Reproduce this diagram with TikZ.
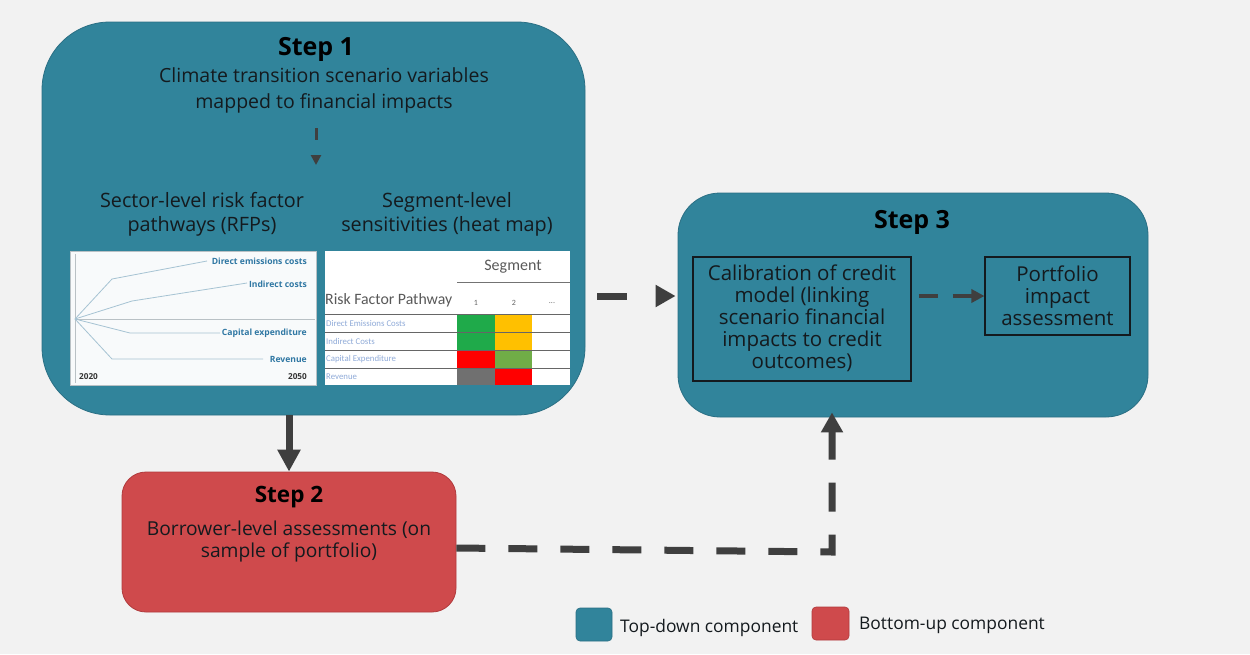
\documentclass[tikz,border=0pt]{standalone}
\usepackage{fontspec}
\setmainfont{Open Sans}
\newfontfamily\condfont{Carlito}
\usetikzlibrary{arrows.meta,calc}

\definecolor{pagebg}{HTML}{F2F2F2}
\definecolor{topdown}{HTML}{31849B}
\definecolor{topdownedge}{HTML}{2A6F84}
\definecolor{bottomup}{HTML}{CF4A4C}
\definecolor{bottomupedge}{HTML}{B03A3C}
\definecolor{arrowgray}{HTML}{3F3F3F}
\definecolor{inktext}{HTML}{141A1E}
\definecolor{rfpline}{HTML}{A6C3D3}
\definecolor{rfplabel}{HTML}{2F77A3}
\definecolor{axisgray}{HTML}{B9C1C5}
\definecolor{rowlabel}{HTML}{8FAAD8}
\definecolor{hmgreen}{HTML}{1FAA4A}
\definecolor{hmyellow}{HTML}{FFC000}
\definecolor{hmred}{HTML}{FF0000}
\definecolor{hmolive}{HTML}{70AD47}
\definecolor{hmgray}{HTML}{707070}

\tikzset{
  stepbox/.style={fill=topdown, draw=topdownedge, line width=0.8pt},
  redbox/.style={fill=bottomup, draw=bottomupedge, line width=0.8pt},
  steptitle/.style={font=\fontsize{25}{28}\bfseries\selectfont, text=black, inner sep=0pt},
  bodytext/.style={font=\fontsize{19.5}{26}\selectfont, text=inktext, align=center, inner sep=0pt},
  framebox/.style={draw=inktext, line width=1.1pt, inner sep=0pt},
  bigarrow/.style={draw=arrowgray, line width=7pt, -{Triangle[length=22pt,width=22pt]}},
  bigdash/.style={draw=arrowgray, line width=7pt, -{Triangle[length=20pt,width=21pt]}},
  smalldash/.style={draw=arrowgray, line width=4pt, dash pattern=on 19pt off 15pt, -{Triangle[length=13pt,width=13pt]}},
  tinydash/.style={draw=arrowgray, line width=3pt, dash pattern=on 12pt off 15pt, -{Triangle[length=10pt,width=10pt]}},
  rfp/.style={draw=rfpline, line width=0.8pt},
  rfptext/.style={font=\fontsize{8.6}{10}\bfseries\selectfont, text=rfplabel, inner sep=0pt},
  yeartext/.style={font=\fontsize{8.2}{10}\bfseries\selectfont, text=black!80, inner sep=0pt},
  rowtext/.style={font=\condfont\fontsize{8.8}{10}\selectfont, text=rowlabel, inner sep=0pt, anchor=west},
  legendtext/.style={font=\fontsize{17.4}{20}\selectfont, text=inktext, inner sep=0pt, anchor=west},
}

\begin{document}
\begin{tikzpicture}[x=1pt,y=-1pt]
\useasboundingbox (0,0) rectangle (1250,654);
\fill[pagebg] (0,0) rectangle (1250,654);

% ---------- Step 1 ----------
\node[stepbox, minimum width=543pt, minimum height=393pt, rounded corners=68pt] (step1) at (313.5,218.5) {};
\node[steptitle] (t1) at (316,49) {Step 1};
\node[bodytext] (sub1) at (324,90) {Climate transition scenario variables\\mapped to financial impacts};
\coordinate (d1a) at (316,128);
\coordinate (d1b) at (316,165);
\draw[tinydash] (d1a) -- (d1b);
\node[bodytext, font=\fontsize{19.8}{24}\selectfont] (h1) at (202,214) {Sector-level risk factor\\pathways (RFPs)};
\node[bodytext, font=\fontsize{19.8}{24}\selectfont] (h2) at (447,214) {Segment-level\\sensitivities (heat map)};

% risk factor pathway chart
\node[fill=white!92!rfpline, draw=axisgray, line width=0.5pt, minimum width=246pt, minimum height=134pt, inner sep=0pt] (chart) at (193,318) {};
\draw[axisgray, line width=0.8pt] (75,254) -- (75,383);
\draw[axisgray, line width=0.8pt] (75,319) -- (315,319);
\coordinate (o) at (75,319);
\draw[rfp] (o) -- (112,279) -- (207,261);
\draw[rfp] (o) -- (132,301) -- (247,283);
\draw[rfp] (o) -- (130,333) -- (220,333);
\draw[rfp] (o) -- (112,359) -- (263,359);
\node[rfptext, anchor=east] (l1) at (307,261) {Direct emissions costs};
\node[rfptext, anchor=east] (l2) at (307,284) {Indirect costs};
\node[rfptext, anchor=east] (l3) at (307,333) {Capital expenditure};
\node[rfptext, anchor=east] (l4) at (307,359) {Revenue};
\node[yeartext, anchor=west] (y1) at (79,377) {2020};
\node[yeartext, anchor=east] (y2) at (307,377) {2050};

% heat map table
\node[fill=white, minimum width=245pt, minimum height=134pt, inner sep=0pt] (heat) at (447.5,318) {};
\node[font=\condfont\fontsize{16}{20}\selectfont, text=black!65, inner sep=0pt] (seg) at (513,267) {Segment};
\draw[black!55, line width=0.8pt] (457,282) -- (570,282);
\node[font=\condfont\fontsize{15.8}{20}\selectfont, text=black!65, inner sep=0pt, anchor=west] (rfpp) at (325,300) {Risk Factor Pathway};
\node[font=\condfont\fontsize{8}{9}\selectfont, text=black!60, inner sep=0pt] (c1) at (476,303) {1};
\node[font=\condfont\fontsize{8}{9}\selectfont, text=black!60, inner sep=0pt] (c2) at (514,303) {2};
\node[font=\condfont\fontsize{8}{9}\selectfont, text=black!60, inner sep=0pt] (c3) at (552,303) {...};
\fill[hmgreen]  (457,314) rectangle (495,332);
\fill[hmyellow] (495,314) rectangle (532,332);
\fill[hmgreen]  (457,332) rectangle (495,350);
\fill[hmyellow] (495,332) rectangle (532,350);
\fill[hmred]    (457,350) rectangle (495,368);
\fill[hmolive]  (495,350) rectangle (532,368);
\fill[hmgray]   (457,368) rectangle (495,385);
\fill[hmred]    (495,368) rectangle (532,385);
\foreach \yy in {314,332,350,368}
  \draw[black!60, line width=0.7pt] (325,\yy) -- (570,\yy);
\node[rowtext] (r1) at (326,323) {Direct Emissions Costs};
\node[rowtext] (r2) at (326,341) {Indirect Costs};
\node[rowtext] (r3) at (326,359) {Capital Expenditure};
\node[rowtext] (r4) at (326,377) {Revenue};

% ---------- Step 3 ----------
\node[stepbox, minimum width=470pt, minimum height=224pt, rounded corners=42pt] (step3) at (913,305) {};
\node[steptitle] (t3) at (912,222) {Step 3};
\node[framebox, minimum width=218pt, minimum height=124pt] (calib) at (802,319) {};
\node[bodytext, font=\fontsize{20.5}{22}\selectfont] (calibtext) at (802,318) {Calibration of credit\\model (linking\\scenario financial\\impacts to credit\\outcomes)};
\node[framebox, minimum width=145pt, minimum height=78pt] (port) at (1057.5,296) {};
\node[bodytext, font=\fontsize{20.5}{22}\selectfont] (porttext) at (1057.5,296) {Portfolio\\impact\\assessment};
\draw[smalldash, shorten <=7pt] (calib.east |- port.west) -- (port.west);

% ---------- Step 2 ----------
\node[redbox, minimum width=334pt, minimum height=140pt, rounded corners=24pt] (step2) at (289,542) {};
\node[steptitle, font=\fontsize{22.5}{26}\bfseries\selectfont] (t2) at (289,497) {Step 2};
\node[bodytext, font=\fontsize{19.2}{22}\selectfont] (sub2) at (289,542) {Borrower-level assessments (on\\sample of portfolio)};

% ---------- connectors between steps ----------
\draw[bigarrow] (step2.north |- step1.south) -- (step2.north);
\draw[bigdash, dash pattern=on 30pt off 30pt, shorten <=12pt, shorten >=2pt] (step1.east |- port.west) -- (step3.west |- port.west);
\coordinate (turn) at (832,552);
\draw[bigdash, dash pattern=on 29pt off 23pt, shorten >=-5pt] ([yshift=-6pt]step2.east) -- (turn) -- (turn |- step3.south);

% ---------- legend ----------
\node[fill=topdown, draw=topdownedge, line width=0.6pt, rounded corners=4pt, minimum width=36pt, minimum height=33pt, inner sep=0pt] (legtd) at (594,624.5) {};
\node[legendtext] (legtdtext) at (620,628) {Top-down component};
\node[fill=bottomup, draw=bottomupedge, line width=0.6pt, rounded corners=4pt, minimum width=37pt, minimum height=33pt, inner sep=0pt] (legbu) at (830.5,623.5) {};
\node[legendtext] (legbutext) at (859,625) {Bottom-up component};
\end{tikzpicture}
\end{document}
